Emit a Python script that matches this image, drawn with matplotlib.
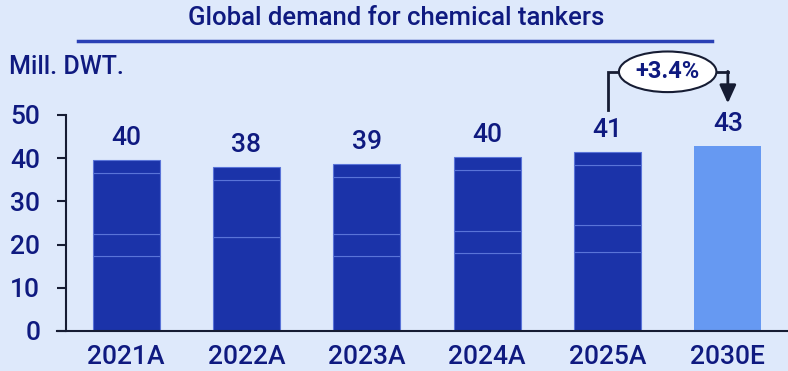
import matplotlib
matplotlib.use("Agg")
import matplotlib.pyplot as plt
from matplotlib.patches import Ellipse
from matplotlib import font_manager

# ---- data -------------------------------------------------------------
years = ["2021A", "2022A", "2023A", "2024A", "2025A", "2030E"]
# stacked components of actual demand (Mill. DWT)
seg_a = [17.3, 21.7, 17.3, 18.0, 18.4]
seg_b = [5.1, 0.0, 5.1, 5.1, 6.1]
seg_c = [14.2, 13.2, 13.2, 14.1, 13.9]
seg_d = [3.0, 3.0, 3.0, 3.1, 3.0]
forecast_2030 = 42.8
y_ticks = [0, 10, 20, 30, 40, 50]

# ---- style ------------------------------------------------------------
BG = "#DEE9FB"
NAVY = "#0F1A80"
BAR = "#1B33A9"
BAR_EDGE = "#5A74D8"
LIGHT = "#6699F2"
DARK = "#161C33"

names = {f.name for f in font_manager.fontManager.ttflist}
fam = [f for f in ["Liberation Sans Narrow", "Roboto", "DejaVu Sans"] if f in names]
plt.rcParams["font.family"] = fam
W = 500

fig = plt.figure(figsize=(7.88, 3.71), dpi=100, facecolor=BG)
ax = fig.add_axes([66 / 788, 40 / 371, 722 / 788, 216 / 371], facecolor=BG)

x = list(range(len(years)))
width = 0.557
bottom = [0.0] * 5
for seg in (seg_a, seg_b, seg_c, seg_d):
    ax.bar(x[:5], seg, width, bottom=bottom, color=BAR,
           edgecolor=BAR_EDGE, linewidth=0.8, zorder=2)
    bottom = [b + s for b, s in zip(bottom, seg)]
ax.bar(x[5], forecast_2030, width, color=LIGHT, linewidth=0, zorder=2)

totals = bottom + [forecast_2030]
for xi, v in zip(x, totals):
    ax.text(xi, v + 2.3, f"{v:.0f}", ha="center", va="bottom",
            fontsize=19, color=NAVY, fontweight=W)

ax.set_xlim(-0.5, 5.5)
ax.set_ylim(0, 50)
ax.set_yticks(y_ticks)
ax.set_xticks(x)
ax.set_xticklabels(years, fontweight=W)
ax.set_yticklabels([str(t) for t in y_ticks], fontweight=W)
ax.tick_params(axis="y", length=6.5, width=1.5, color=DARK, pad=12,
               labelsize=19, labelcolor=NAVY)
ax.tick_params(axis="x", length=0, pad=10, labelsize=19, labelcolor=NAVY)
for s in ("top", "right"):
    ax.spines[s].set_visible(False)
ax.spines["left"].set_color(DARK)
ax.spines["left"].set_linewidth(1.5)
ax.spines["bottom"].set_color(DARK)
ax.spines["bottom"].set_linewidth(1.5)
ax.spines["bottom"].set_bounds(-0.575, 5.5)

# growth bracket between 2025A and 2030E
growth = (forecast_2030 / totals[4] - 1) * 100
yb = 60
ax.plot([4, 4, 4.5], [51.2, yb, yb], color=DARK, lw=2, clip_on=False,
        solid_joinstyle="miter", zorder=3)
ax.plot([4.5, 5], [yb, yb], color=DARK, lw=2, clip_on=False, zorder=3)
ax.annotate("", xy=(5, 52.7), xytext=(5, yb + 0.1),
            arrowprops=dict(arrowstyle="-|>,head_length=0.55,head_width=0.25",
                            mutation_scale=20, color=DARK, lw=2,
                            shrinkA=0, shrinkB=0),
            annotation_clip=False, zorder=3)
ax.add_patch(Ellipse((4.5, yb), 0.81, 9.4, facecolor="white",
                     edgecolor=DARK, lw=1.5, clip_on=False, zorder=4))
ax.text(4.5, yb, f"+{growth:.1f}%", ha="center", va="center",
        fontsize=17, fontweight="bold", color=NAVY, zorder=5)

# heading
fig.text(396 / 788, 1 - 18 / 371, "Global demand for chemical tankers",
         ha="center", va="center", fontsize=18.5, color=NAVY, fontweight=W)
fig.add_artist(plt.Line2D([78 / 788, 712 / 788], [1 - 40.5 / 371] * 2,
                          color="#2A40B5", lw=2.5))
fig.text(9 / 788, 1 - 67 / 371, "Mill. DWT.", ha="left", va="center",
         fontsize=18, color=NAVY, fontweight=W)

fig.savefig("out.png", dpi=100, facecolor=BG)
